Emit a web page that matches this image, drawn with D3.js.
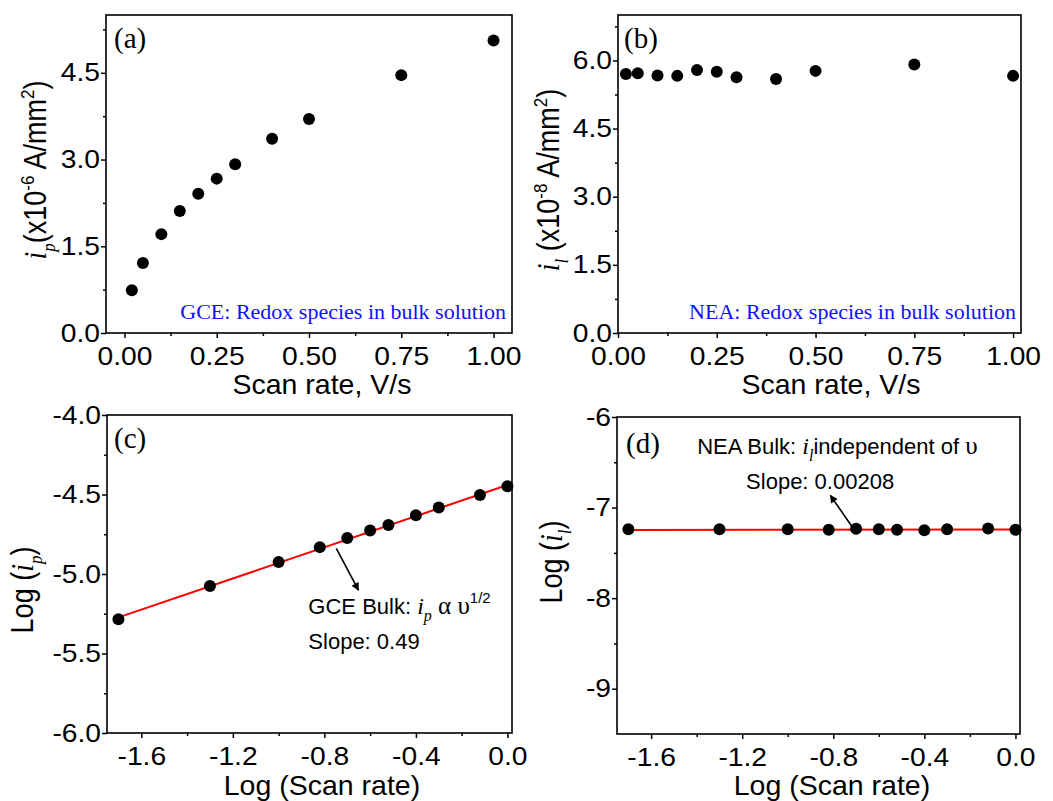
<!DOCTYPE html>
<html>
<head>
<meta charset="utf-8">
<script src="https://cdn.jsdelivr.net/npm/d3@7"></script>
<style>
  html, body { margin: 0; padding: 0; background: #fff; }
  svg { display: block; }
  .tick text { font-family: "Liberation Sans", Arial, sans-serif; font-size: 25px; fill: #000; }
  .tick line { stroke: #000; stroke-width: 1.5; }
</style>
</head>
<body>
<svg id="chart" width="1053" height="801"></svg>
<script>
// Scan rates (V/s) and measured currents
const scanRate = [0.02, 0.05, 0.10, 0.15, 0.20, 0.25, 0.30, 0.40, 0.50, 0.75, 1.00];
const gcePeak = [0.74, 1.21, 1.71, 2.11, 2.41, 2.67, 2.92, 3.36, 3.70, 4.46, 5.06];      // x10^-6 A/mm^2
const neaLimiting = [5.70, 5.72, 5.67, 5.66, 5.79, 5.75, 5.63, 5.59, 5.77, 5.91, 5.66];  // x10^-8 A/mm^2

// Log-log data
const logScanRate = [-1.70, -1.30, -1.00, -0.82, -0.70, -0.60, -0.52, -0.40, -0.30, -0.12, 0.00];
const gceLogPeak = [-5.285, -5.075, -4.924, -4.831, -4.773, -4.727, -4.692, -4.630, -4.582, -4.503, -4.448];
const neaLogLimiting = [-7.240, -7.240, -7.240, -7.245, -7.235, -7.240, -7.245, -7.250, -7.240, -7.230, -7.245];

// Linear fits
const gceFitSlope = 0.49, gceFitIntercept = -4.44;
const neaFitSlope = 0.00208, neaFitIntercept = -7.243;
const fitRange = [-1.70, 0.00];

// Axis ticks and labels
const rateTicks = [0, 0.25, 0.5, 0.75, 1.0];
const rateTickLabels = ["0.00", "0.25", "0.50", "0.75", "1.00"];
const rateMinor = [0.125, 0.375, 0.625, 0.875];
const gceTicks = [0, 1.5, 3.0, 4.5];
const gceTickLabels = ["0.0", "1.5", "3.0", "4.5"];
const gceMinor = [0.75, 2.25, 3.75, 5.25];
const neaTicks = [0, 1.5, 3.0, 4.5, 6.0];
const neaTickLabels = ["0.0", "1.5", "3.0", "4.5", "6.0"];
const neaMinor = [0.75, 2.25, 3.75, 5.25, 6.75];
const logRateTicks = [-1.6, -1.2, -0.8, -0.4, 0.0];
const logRateTickLabels = ["-1.6", "-1.2", "-0.8", "-0.4", "0.0"];
const logRateMinor = [-1.4, -1.0, -0.6, -0.2];
const gceLogTicks = [-6.0, -5.5, -5.0, -4.5, -4.0];
const gceLogTickLabels = ["-6.0", "-5.5", "-5.0", "-4.5", "-4.0"];
const gceLogMinor = [-5.75, -5.25, -4.75, -4.25];
const neaLogTicks = [-9, -8, -7, -6];
const neaLogTickLabels = ["-9", "-8", "-7", "-6"];
const neaLogMinor = [-8.5, -7.5, -6.5];

const SANS = '"Liberation Sans", Arial, sans-serif';
const SERIF = '"Liberation Serif", "Times New Roman", serif';
const WIDE = 1.13;   // horizontal stretch of the sans-serif lettering

const svg = d3.select("#chart");

const defs = svg.append("defs");
defs.append("marker")
  .attr("id", "arrowhead")
  .attr("viewBox", "0 0 10 10")
  .attr("refX", 9).attr("refY", 5)
  .attr("markerUnits", "userSpaceOnUse")
  .attr("markerWidth", 11).attr("markerHeight", 8)
  .attr("orient", "auto")
  .append("path").attr("d", "M0,0 L10,5 L0,10 Z").attr("fill", "#000");

function panel(cfg) {
  const x = d3.scaleLinear().domain(cfg.xDomain).range([cfg.left, cfg.right]);
  const y = d3.scaleLinear().domain(cfg.yDomain).range([cfg.bottom, cfg.top]);
  const g = svg.append("g");

  // axes: major and minor ticks pointing outward
  const xAxis = g.append("g").attr("transform", `translate(0,${cfg.bottom})`)
    .call(d3.axisBottom(x).tickValues(cfg.xTicks).tickFormat((d, i) => cfg.xLabels[i])
      .tickSize(5).tickPadding(9).tickSizeOuter(0));
  xAxis.select(".domain").remove();
  xAxis.selectAll(".tick text").attr("transform", `scale(${WIDE},1)`);
  const xMinor = g.append("g").attr("transform", `translate(0,${cfg.bottom})`)
    .call(d3.axisBottom(x).tickValues(cfg.xMinor).tickFormat("").tickSize(3).tickSizeOuter(0));
  xMinor.select(".domain").remove();

  const yAxis = g.append("g").attr("transform", `translate(${cfg.left},0)`)
    .call(d3.axisLeft(y).tickValues(cfg.yTicks).tickFormat((d, i) => cfg.yLabels[i])
      .tickSize(5).tickPadding(0.3).tickSizeOuter(0));
  yAxis.select(".domain").remove();
  yAxis.selectAll(".tick text").attr("transform", `scale(${WIDE},1)`);
  const yMinor = g.append("g").attr("transform", `translate(${cfg.left},0)`)
    .call(d3.axisLeft(y).tickValues(cfg.yMinor).tickFormat("").tickSize(3).tickSizeOuter(0));
  yMinor.select(".domain").remove();

  // frame
  g.append("rect")
    .attr("x", cfg.left).attr("y", cfg.top)
    .attr("width", cfg.right - cfg.left).attr("height", cfg.bottom - cfg.top)
    .attr("fill", "none").attr("stroke", "#000").attr("stroke-width", 1.6);

  // fit line
  if (cfg.fit) {
    const line = d3.line().x(d => x(d)).y(d => y(cfg.fit.intercept + cfg.fit.slope * d));
    g.append("path").datum(fitRange).attr("d", line)
      .attr("fill", "none").attr("stroke", "#ff0000").attr("stroke-width", 2);
  }

  // data points
  g.append("g").selectAll("circle")
    .data(cfg.xs.map((v, i) => [v, cfg.ys[i]]))
    .join("circle")
    .attr("cx", d => x(d[0])).attr("cy", d => y(d[1]))
    .attr("r", 6).attr("fill", "#000");

  // panel letter
  g.append("text")
    .attr("x", cfg.left + cfg.tagDx).attr("y", cfg.top + cfg.tagDy)
    .attr("font-family", SERIF).attr("font-size", 29).text(cfg.tag);

  // x title
  g.append("text")
    .attr("x", cfg.xTitleX).attr("y", cfg.xTitleY)
    .attr("text-anchor", "middle")
    .attr("font-family", SANS).attr("font-size", 28.5)
    .text(cfg.xTitle);

  // y title (rotated)
  const yt = g.append("text")
    .attr("transform", `translate(${cfg.yTitleX},${cfg.yTitleY}) scale(${WIDE},1) rotate(-90)`)
    .attr("text-anchor", "middle")
    .attr("font-family", SANS).attr("font-size", 27);
  cfg.yTitle(yt);

  return { g, x, y };
}

function addSub(t, base, sub) {
  t.append("tspan").attr("font-family", SERIF).attr("font-style", "italic")
    .attr("font-size", 28).text(base);
  t.append("tspan").attr("font-family", SERIF).attr("font-style", "italic")
    .attr("font-size", 17).attr("dy", 8).text(sub);
}

// (a) GCE peak current vs scan rate
const pa = panel({
  left: 106, right: 512, top: 15, bottom: 333,
  xDomain: [-0.05, 1.05], yDomain: [0, 5.5],
  xTicks: rateTicks, xLabels: rateTickLabels, xMinor: rateMinor,
  yTicks: gceTicks, yLabels: gceTickLabels, yMinor: gceMinor,
  xs: scanRate, ys: gcePeak,
  tag: "(a)", tagDx: 8, tagDy: 33,
  xTitle: "Scan rate, V/s", xTitleX: 322, xTitleY: 394,
  yTitleX: 46, yTitleY: 170,
  yTitle: t => {
    addSub(t, "i", "p");
    t.append("tspan").attr("dy", -8).text("(x10");
    t.append("tspan").attr("font-size", 17).attr("dy", -11).text("-6");
    t.append("tspan").attr("dy", 11).text(" A/mm");
    t.append("tspan").attr("font-size", 17).attr("dy", -11).text("2");
    t.append("tspan").attr("dy", 11).text(")");
  }
});
pa.g.append("text")
  .attr("x", 506).attr("y", 319).attr("text-anchor", "end")
  .attr("font-family", SERIF).attr("font-size", 22).attr("fill", "#1010ff")
  .text("GCE: Redox species in bulk solution");

// (b) NEA limiting current vs scan rate
const pb = panel({
  left: 618, right: 1021, top: 15, bottom: 333,
  xDomain: [0, 1.02], yDomain: [0, 7],
  xTicks: rateTicks, xLabels: rateTickLabels, xMinor: rateMinor,
  yTicks: neaTicks, yLabels: neaTickLabels, yMinor: neaMinor,
  xs: scanRate, ys: neaLimiting,
  tag: "(b)", tagDx: 6, tagDy: 33,
  xTitle: "Scan rate, V/s", xTitleX: 831, xTitleY: 394,
  yTitleX: 559, yTitleY: 180,
  yTitle: t => {
    addSub(t, "i", "l");
    t.append("tspan").attr("dy", -8).text(" (x10");
    t.append("tspan").attr("font-size", 17).attr("dy", -11).text("-8");
    t.append("tspan").attr("dy", 11).text(" A/mm");
    t.append("tspan").attr("font-size", 17).attr("dy", -11).text("2");
    t.append("tspan").attr("dy", 11).text(")");
  }
});
pb.g.append("text")
  .attr("x", 1016).attr("y", 319).attr("text-anchor", "end")
  .attr("font-family", SERIF).attr("font-size", 22).attr("fill", "#1010ff")
  .text("NEA: Redox species in bulk solution");

// (c) log-log, GCE
const pc = panel({
  left: 107, right: 512, top: 415, bottom: 733,
  xDomain: [-1.75, 0.02], yDomain: [-6, -4],
  xTicks: logRateTicks, xLabels: logRateTickLabels, xMinor: logRateMinor,
  yTicks: gceLogTicks, yLabels: gceLogTickLabels, yMinor: gceLogMinor,
  xs: logScanRate, ys: gceLogPeak,
  fit: { slope: gceFitSlope, intercept: gceFitIntercept },
  tag: "(c)", tagDx: 7, tagDy: 33,
  xTitle: "Log (Scan rate)", xTitleX: 322, xTitleY: 795,
  yTitleX: 33, yTitleY: 590,
  yTitle: t => {
    t.append("tspan").text("Log (");
    addSub(t, "i", "p");
    t.append("tspan").attr("dy", -8).text(")");
  }
});
pc.g.append("line")
  .attr("x1", pc.x(-0.748)).attr("y1", pc.y(-4.839))
  .attr("x2", pc.x(-0.651)).attr("y2", pc.y(-5.102))
  .attr("stroke", "#000").attr("stroke-width", 1.6)
  .attr("marker-end", "url(#arrowhead)");
{
  const t = pc.g.append("text")
    .attr("x", pc.x(-0.870)).attr("y", pc.y(-5.249))
    .attr("font-family", SANS).attr("font-size", 22);
  t.append("tspan").text("GCE Bulk: ");
  t.append("tspan").attr("font-family", SERIF).attr("font-style", "italic").attr("font-size", 24).text("i");
  t.append("tspan").attr("font-family", SERIF).attr("font-style", "italic").attr("font-size", 16).attr("dy", 7).text("p");
  t.append("tspan").attr("font-family", SERIF).attr("font-size", 25).attr("dy", -7).text(" α υ");
  t.append("tspan").attr("font-size", 15).attr("dy", -11).text("1/2");
  pc.g.append("text")
    .attr("x", pc.x(-0.870)).attr("y", pc.y(-5.469))
    .attr("font-family", SANS).attr("font-size", 22)
    .text("Slope: 0.49");
}

// (d) log-log, NEA
const pd = panel({
  left: 617, right: 1020, top: 417, bottom: 734,
  xDomain: [-1.75, 0.02], yDomain: [-9.5, -6],
  xTicks: logRateTicks, xLabels: logRateTickLabels, xMinor: logRateMinor,
  yTicks: neaLogTicks, yLabels: neaLogTickLabels, yMinor: neaLogMinor,
  xs: logScanRate, ys: neaLogLimiting,
  fit: { slope: neaFitSlope, intercept: neaFitIntercept },
  tag: "(d)", tagDx: 9, tagDy: 36,
  xTitle: "Log (Scan rate)", xTitleX: 832, xTitleY: 795,
  yTitleX: 562, yTitleY: 562,
  yTitle: t => {
    t.append("tspan").text("Log (");
    addSub(t, "i", "l");
    t.append("tspan").attr("dy", -8).text(")");
  }
});
pd.g.append("line")
  .attr("x1", pd.x(-0.715)).attr("y1", pd.y(-7.22))
  .attr("x2", pd.x(-0.813)).attr("y2", pd.y(-6.865))
  .attr("stroke", "#000").attr("stroke-width", 1.6)
  .attr("marker-end", "url(#arrowhead)");
{
  const t = pd.g.append("text")
    .attr("x", pd.x(-1.398)).attr("y", pd.y(-6.414))
    .attr("font-family", SANS).attr("font-size", 22);
  t.append("tspan").text("NEA Bulk: ");
  t.append("tspan").attr("font-family", SERIF).attr("font-style", "italic").attr("font-size", 24).text("i");
  t.append("tspan").attr("font-family", SERIF).attr("font-style", "italic").attr("font-size", 16).attr("dy", 7).text("l");
  t.append("tspan").attr("dy", -7).text("independent of ");
  t.append("tspan").attr("font-family", SERIF).attr("font-size", 25).text(" υ");
  pd.g.append("text")
    .attr("x", pd.x(-1.183)).attr("y", pd.y(-6.791))
    .attr("font-family", SANS).attr("font-size", 22)
    .text("Slope: 0.00208");
}
</script>
</body>
</html>
